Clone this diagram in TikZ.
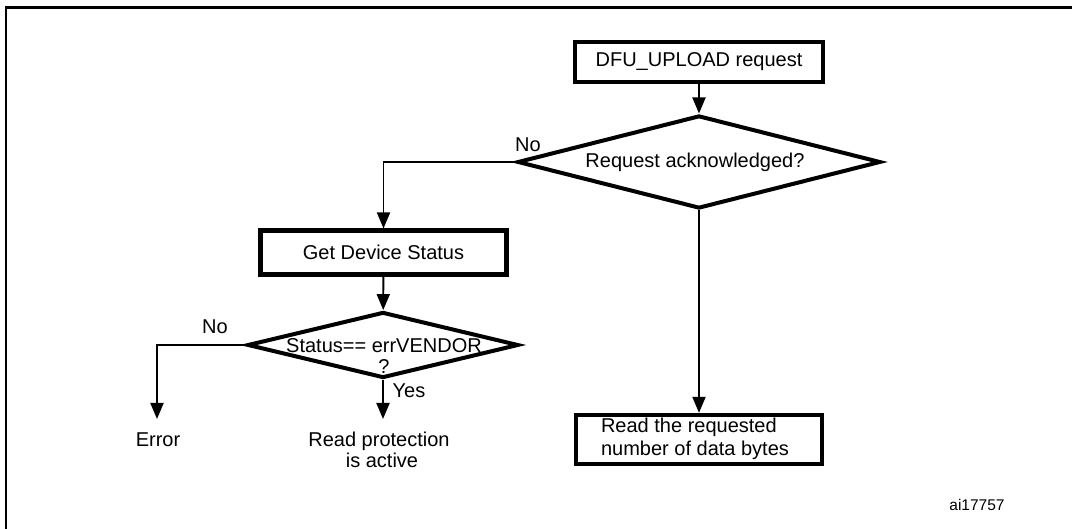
\documentclass[tikz,border=0pt]{standalone}
\usepackage{fontspec}
\setmainfont{Liberation Sans}
\usetikzlibrary{arrows.meta,shapes.geometric}
\tikzset{
  box/.style={draw, rectangle, line width=4.3pt, inner sep=0pt, font=\fontsize{20}{23}\selectfont},
  dia/.style={draw, diamond, line width=4pt, inner sep=0pt},
  txt/.style={inner sep=0pt, font=\fontsize{20}{21}\selectfont},
  arr/.style={line width=1.9pt, -{Triangle[length=16pt,width=13pt]}},
  frame/.style={line width=2.5pt}
}
\begin{document}
\begin{tikzpicture}[x=1pt,y=-1pt]
\useasboundingbox (0,0) rectangle (1072,529);
\draw[frame] (1072,7.3) -- (6,7.3) -- (6,529);
% top branch
\node[box, minimum width=248pt, minimum height=40pt] (up) at (699,62) {DFU\_UPLOAD request};
\node[dia, minimum width=363pt, minimum height=93pt] (d1) at (699,162) {};
\node[txt] (d1t) at (695,162) {Request acknowledged?};
\node[box, minimum width=246pt, minimum height=49pt] (rd) at (699,439.5) {};
\node[txt, align=left, font=\fontsize{20}{23}\selectfont] (rdt) at (695,438.5) {Read the requested\\number of data bytes};
% left branch
\node[box, minimum width=246pt, minimum height=44pt] (gds) at (383.5,252.6) {Get Device Status};
\node[dia, minimum width=271pt, minimum height=66pt] (d2) at (383,345) {};
\node[txt, align=center] (d2t) at (384,356) {Status== errVENDOR\\?};
\coordinate (errtip) at (157,419);
\coordinate (rptip) at (383,419);
\node[txt] (err) at (158,440) {Error};
\node[txt, align=center] (rp) at (379,450) {Read protection\\\hspace*{6pt}is active};
% labels
\node[txt] (no1) at (528,145) {No};
\node[txt] (no2) at (215,327) {No};
\node[txt] (yes) at (409,391) {Yes};
\node[inner sep=0pt, font=\fontsize{15.5}{18}\selectfont] (id) at (977,505) {ai17757};
% connectors
\draw[arr] (up) -- (d1);
\draw[arr] (d1) -- (rd);
\draw[arr] (d1.west) -| (gds.north);
\draw[arr] (gds) -- (d2);
\draw[arr] (d2.west) -| (errtip);
\draw[arr] (d2.south) -- (rptip);
\end{tikzpicture}
\end{document}
